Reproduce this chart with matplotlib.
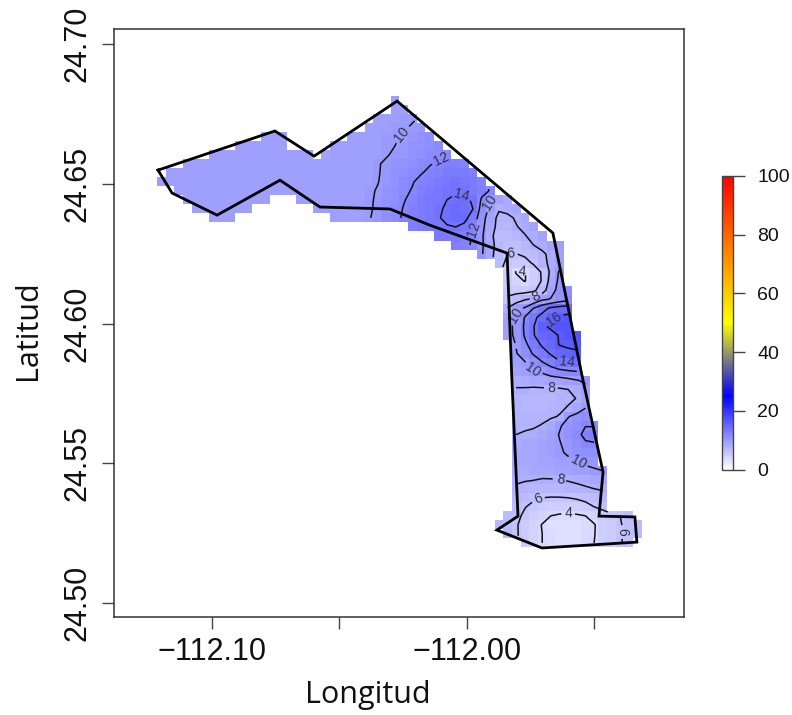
import numpy as np
import matplotlib
matplotlib.use("Agg")
import matplotlib.pyplot as plt
from matplotlib.colors import LinearSegmentedColormap

plt.rcParams['font.family'] = ['Liberation Sans', 'DejaVu Sans']
N = float('nan')

# Outline of the study area (lon, lat)
outline_lon = [-112.1212, -112.0753, -112.0599, -112.0273, -111.9661, -111.9543, -111.9464, -111.9480,
               -111.9339, -111.9331, -111.9704, -111.9881, -111.9798, -111.9822, -111.9841, -112.0144,
               -112.0301, -112.0576, -112.0733, -112.0980, -112.1157, -112.1212]
outline_lat = [24.6549, 24.6689, 24.6599, 24.6796, 24.6324, 24.5798, 24.5469, 24.5311,
               24.5308, 24.5218, 24.5197, 24.5261, 24.5311, 24.5798, 24.6252, 24.6352,
               24.6410, 24.6417, 24.6513, 24.6388, 24.6467, 24.6549]

# Raster cell origin and size
lon_origin = -112.1216
lat_origin = 24.6814
lon_step = 0.0034
lat_step = 0.00323

# First column of each raster row
row_starts = [27, 27, 25, 24, 12, 9, 6, 3, 1, 0, 2, 3, 4, 6, 29, 32, 34, 37, 39, 40,
              40, 40, 40, 40, 40, 40, 40, 41, 41, 41, 41, 41, 41, 41, 41, 41, 41, 41, 41, 41,
              41, 41, 41, 41, 41, 41, 40, 39, 40, 42]

# Values of each raster row
row_00 = [9.6]
row_01 = [9.6, 9.7]
row_02 = [9.5, 9.6, 9.7, 9.8, 9.9]
row_03 = [9.5, 9.6, 9.7, 9.8, 9.9, 10.1, 10.3]
row_04 = [9.5, 9.5, 9.5, N, N, N, N, N, N, N, 9.4, 9.5, 9.6, 9.7, 9.8, 9.9, 10.1, 10.4, 10.7, 11.0]
row_05 = [9.5, 9.5, 9.5, 9.5, 9.5, 9.5, N, N, N, N, N, 9.4, 9.4, 9.5, 9.5, 9.6, 9.7, 9.8, 10.0, 10.3, 10.6, 10.9, 11.2, 11.5]
row_06 = [9.5, 9.5, 9.5, 9.5, 9.5, 9.5, 9.5, 9.5, 9.5, 9.5, 9.5, 9.5, N,
          9.3, 9.4, 9.4, 9.5, 9.5, 9.6, 9.7, 9.9, 10.2, 10.5, 10.8, 11.1, 11.4, 11.7, 11.9]
row_07 = [9.5, 9.5, 9.5, 9.5, 9.5, 9.5, 9.5, 9.5, 9.5, 9.5, 9.5, 9.5, 9.5, 9.5, 9.5, 9.5, 9.5,
          9.4, 9.5, 9.5, 9.6, 9.7, 9.9, 10.2, 10.6, 10.9, 11.2, 11.6, 11.9, 12.2, 12.5, 12.6, 12.4]
row_08 = [9.5, 9.5, 9.5, 9.5, 9.5, 9.5, 9.5, 9.5, 9.5, 9.5, 9.5, 9.5, 9.5, 9.5, 9.5, 9.5, 9.5, 9.5,
          9.4, 9.4, 9.5, 9.5, 9.6, 9.7, 9.9, 10.3, 10.7, 11.1, 11.5, 11.9, 12.3, 12.7, 13.0, 13.2, 13.0, 12.6]
row_09 = [9.5, 9.5, 9.5, 9.5, 9.5, 9.5, 9.5, 9.5, 9.5, 9.5, 9.5, 9.5, 9.5, 9.5, 9.5, 9.5, 9.5, 9.5, 9.5,
          9.4, 9.4, 9.5, 9.5, 9.6, 9.7, 9.95, 10.4, 10.9, 11.4, 11.9, 12.4, 12.8, 13.2, 13.5, 13.7, 13.5, 13.0, 12.4]
row_10 = [9.5, 9.5, 9.5, 9.5, 9.5, 9.5, 9.5, 9.5, 9.5, 9.5, 9.5, 9.5, 9.5, 9.5, 9.5, 9.5, 9.5,
          9.4, 9.4, 9.5, 9.5, 9.6, 9.8, 10.1, 10.6, 11.2, 11.7, 12.1, 12.6, 13.1, 13.5, 13.8, 13.9, 13.7, 13.1, 12.5, 11.9]
row_11 = [9.5, 9.5, 9.5, 9.5, 9.5, 9.5, 9.5, 9.5, 9.5, 9.5, N, N, N, 9.5, 9.5, 9.5,
          9.4, 9.5, 9.5, 9.6, 9.7, 9.8, 10.2, 10.7, 11.3, 11.9, 12.4, 12.9, 13.3, 13.6, 14.0, 14.2, 14.2, 13.9, 11.8, 10.1, 9.0, 8.3]
row_12 = [9.5, 9.5, 9.5, 9.5, 9.5, 9.5, 9.5, N, N, N, N, N, N, N,
          9.4, 9.4, 9.5, 9.5, 9.6, 9.7, 9.8, 10.3, 10.9, 11.4, 12.1, 12.6, 13.0, 13.4, 13.8, 14.2, 14.5, 14.4, 14.0, 11.3, 9.5, 8.2, 8.5, 8.8]
row_13 = [9.5, 9.5, 9.5, N, N, N, N, N, N, N, N, N, N, N,
          9.4, 9.5, 9.5, 9.6, 9.9, 10.4, 11.0, 11.6, 12.2, 12.7, 13.1, 13.5, 13.9, 14.3, 14.6, 14.5, 13.2, 10.8, 9.0, 7.5, 7.6, 8.2, 8.8]
row_14 = [12.6, 13.0, 13.3, 13.6, 13.9, 14.0, 13.6, 12.4, 10.5, 8.8, 7.4, 7.3, 7.9, 8.4, 9.0]
row_15 = [13.0, 13.2, 13.1, 12.8, 11.8, 10.3, 8.5, 7.0, 6.9, 7.2, 7.9, 8.5, 9.2]
row_16 = [12.6, 12.4, 11.8, 10.3, 8.7, 7.2, 6.5, 6.6, 7.2, 8.0, 8.5, 9.1, 9.6]
row_17 = [10.2, 8.6, 7.0, 6.0, 5.95, 6.3, 6.9, 7.7, 8.4, 9.0]
row_18 = [6.8, 5.5, 5.1, 5.4, 6.2, 7.6, 8.3, 9.3]
row_19 = [5.0, 3.9, 3.9, 5.0, 6.2, 8.4, 10.2]
row_20 = [5.2, 4.4, 3.95, 4.7, 6.2, 8.8, 10.4]
row_21 = [5.6, 5.3, 5.2, 5.6, 7.0, 9.3, 10.6, 11.0]
row_22 = [6.2, 7.0, 7.8, 8.3, 9.6, 10.1, 10.9, 11.4]
row_23 = [8.1, 9.4, 10.2, 12.0, 13.3, 14.3, 14.7, 15.0]
row_24 = [9.2, 10.3, 12.1, 13.6, 14.6, 15.7, 16.2, 16.5]
row_25 = [9.4, 10.5, 12.3, 13.9, 15.7, 16.3, 16.8, 17.0]
row_26 = [9.4, 10.4, 12.2, 13.9, 14.9, 15.5, 16.1, 16.8, 17.0]
row_27 = [10.1, 11.6, 13.0, 14.3, 15.1, 16.1, 16.3, 16.5]
row_28 = [9.9, 11.0, 12.2, 13.2, 14.2, 15.1, 15.6, 15.7]
row_29 = [9.5, 9.9, 11.0, 11.9, 12.8, 13.8, 14.0, 14.1]
row_30 = [9.0, 9.5, 10.0, 10.3, 11.1, 11.5, 11.8, 12.0]
row_31 = [8.2, 8.4, 8.6, 8.8, 9.0, 9.2, 9.5, 9.9, 10.3]
row_32 = [7.95, 7.9, 7.8, 7.8, 7.8, 7.8, 8.0, 8.5, 9.5]
row_33 = [7.7, 7.4, 7.3, 7.3, 7.4, 7.5, 7.7, 8.05, 9.2]
row_34 = [7.6, 7.3, 7.3, 7.4, 7.5, 7.7, 8.1, 8.8, 9.9]
row_35 = [7.7, 7.5, 7.5, 7.6, 7.8, 8.1, 9.9, 10.6, 11.1]
row_36 = [7.8, 7.7, 7.8, 8.1, 8.7, 9.8, 10.6, 11.3, 11.95, 11.9]
row_37 = [8.0, 8.2, 8.4, 8.7, 9.2, 10.1, 10.9, 11.6, 12.4, 12.6]
row_38 = [8.4, 8.6, 8.8, 9.0, 9.4, 9.9, 10.5, 11.3, 11.8, 11.9]
row_39 = [8.6, 8.8, 8.9, 9.1, 9.5, 9.8, 10.2, 10.7, 11.0, 11.0]
row_40 = [8.6, 8.7, 8.8, 9.0, 9.2, 9.4, 9.7, 9.95, 10.3, 10.5]
row_41 = [8.5, 8.5, 8.6, 8.7, 8.9, 9.0, 9.2, 9.4, 9.6, 9.8, 10.0]
row_42 = [8.2, 8.1, 8.05, 7.9, 7.9, 8.0, 8.1, 8.3, 8.5, 8.7, 8.8]
row_43 = [7.8, 7.6, 7.3, 7.2, 7.2, 7.4, 7.5, 7.6, 7.8, 8.0, 8.2]
row_44 = [7.2, 6.8, 6.3, 6.0, 5.9, 5.9, 6.0, 6.2, 6.5, 7.0, 7.2]
row_45 = [6.7, 6.1, 5.5, 5.1, 4.9, 4.8, 4.8, 5.0, 5.4, 6.0, 6.4]
row_46 = [7.0, 6.5, 5.6, 4.9, 4.4, 4.0, 3.8, 3.7, 3.8, 4.0, 4.6, 5.3, 5.7, 6.0, 6.3]
row_47 = [7.3, 7.0, 6.2, 5.2, 4.4, 3.95, 3.5, 3.3, 3.3, 3.4, 3.6, 3.9, 4.7, 5.3, 5.9, 6.4, 6.8]
row_48 = [7.1, 6.2, 5.3, 4.5, 4.0, 3.6, 3.4, 3.3, 3.4, 3.6, 3.9, 4.9, 5.4, 5.9, 6.4, 6.8]
row_49 = [5.3, 4.6, 4.0, 3.7, 3.5, 3.4, 3.4, 3.6, 4.0, 4.8, 5.4, 5.9, 6.3]

field_rows = [row_00, row_01, row_02, row_03, row_04, row_05, row_06, row_07, row_08, row_09,
              row_10, row_11, row_12, row_13, row_14, row_15, row_16, row_17, row_18, row_19,
              row_20, row_21, row_22, row_23, row_24, row_25, row_26, row_27, row_28, row_29,
              row_30, row_31, row_32, row_33, row_34, row_35, row_36, row_37, row_38, row_39,
              row_40, row_41, row_42, row_43, row_44, row_45, row_46, row_47, row_48, row_49]

contour_levels = [4, 6, 8, 10, 12, 14, 16]
label_lon = [-112.0250, -112.0097, -112.0022, -111.9896, -111.9967, -111.9826, -111.9782, -111.9731, -111.9810,
             -111.9661, -111.9606, -111.9739, -111.9665, -111.9562, -111.9629, -111.9716, -111.9598, -111.9401]
label_lat = [24.6674, 24.6585, 24.6453, 24.6431, 24.6335, 24.6256, 24.6181, 24.6102, 24.6030,
             24.6020, 24.5859, 24.5834, 24.5776, 24.5504, 24.5440, 24.5365, 24.5322, 24.5254]

x_ticks = [-112.10, -112.05, -112.00, -111.95]
x_tick_labels = ["\u2212112.10", "", "\u2212112.00", ""]
y_ticks = [24.50, 24.55, 24.60, 24.65, 24.70]
y_tick_labels = ["24.50", "24.55", "24.60", "24.65", "24.70"]
bar_ticks = [0, 20, 40, 60, 80, 100]

# ---------------------------------------------------------------------
W, H = 792, 715
n_rows, n_cols = len(field_rows), 56
grid = np.full((n_rows, n_cols), np.nan)
for i, (start, vals) in enumerate(zip(row_starts, field_rows)):
    grid[i, start:start + len(vals)] = vals
lon_edges = lon_origin + lon_step * np.arange(n_cols + 1)
lat_edges = lat_origin - lat_step * np.arange(n_rows + 1)
lon_mid = 0.5 * (lon_edges[:-1] + lon_edges[1:])
lat_mid = 0.5 * (lat_edges[:-1] + lat_edges[1:])
masked = np.ma.masked_invalid(grid)

cmap = LinearSegmentedColormap.from_list(
    "wbyr", [(0.0, "#ffffff"), (0.25, "#0000ff"), (0.5, "#ffff00"), (1.0, "#ff0000")], N=256)

fig = plt.figure(figsize=(W / 100, H / 100), dpi=100)
ax = fig.add_axes([114 / W, 1 - 617 / H, 570 / W, 588 / H])
mesh = ax.pcolormesh(lon_edges, lat_edges, masked, cmap=cmap, vmin=0, vmax=100,
                     shading="flat", antialiased=False, linewidth=0)
ax.set_xlim(-112.1385, -111.9146)
ax.set_ylim(24.4950, 24.7054)

cs = ax.contour(lon_mid, lat_mid, masked, levels=contour_levels, colors="#111111", linewidths=1.1)
ax.clabel(cs, fmt="%d", fontsize=10, inline=True, inline_spacing=3, colors="#333344",
          manual=list(zip(label_lon, label_lat)))
ax.plot(outline_lon, outline_lat, color="black", lw=2.0, solid_joinstyle="miter", zorder=5)

for s in ax.spines.values():
    s.set_color("#333333")
    s.set_linewidth(1.1)
ax.set_xticks(x_ticks)
ax.set_xticklabels(x_tick_labels, fontsize=22)
ax.set_yticks(y_ticks)
ax.set_yticklabels(y_tick_labels, fontsize=22, rotation=90, va="center")
ax.tick_params(axis="both", length=8.5, width=1.0, color="#444444", labelcolor="#111111")
ax.tick_params(axis="x", pad=6)
ax.tick_params(axis="y", pad=7)

fig.text(368 / W, 1 - 695 / H, "Longitud", fontsize=22, family=["Open Sans", "DejaVu Sans"],
         ha="center", va="center", color="#111111")
fig.text(28 / W, 1 - 330 / H, "Latitud", fontsize=22, family=["Open Sans", "DejaVu Sans"],
         rotation=90, ha="center", va="center", color="#111111")

cax = fig.add_axes([722 / W, 1 - 469.7 / H, 11 / W, 294 / H])
cb = fig.colorbar(mesh, cax=cax, ticks=bar_ticks)
cb.ax.tick_params(length=8.5, width=1.0, color="#444444", labelsize=14, pad=9, labelcolor="#111111")
cb.outline.set_edgecolor("#444444")
cb.outline.set_linewidth(1.0)

fig.savefig("out.png", dpi=100)
